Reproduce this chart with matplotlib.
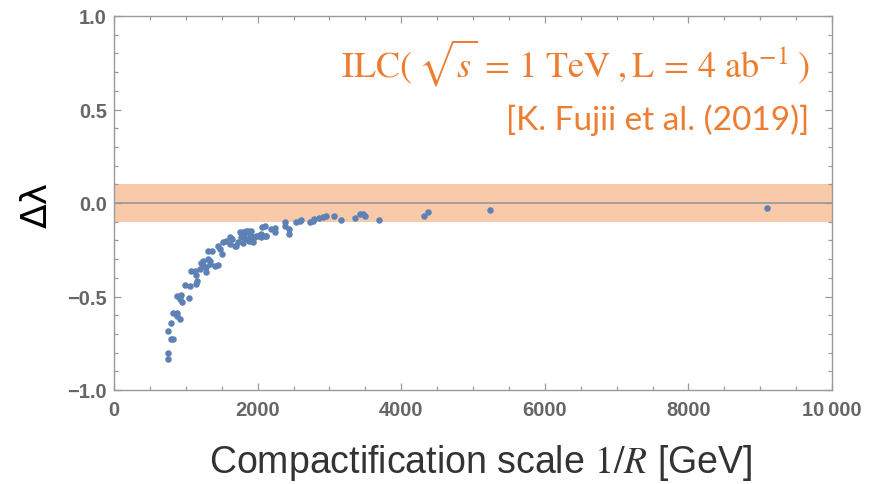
import matplotlib
matplotlib.use("Agg")
import matplotlib.pyplot as plt
from matplotlib.ticker import MultipleLocator, FixedLocator, FixedFormatter

# ---- data ----
scale_1overR = [755, 755, 755, 787, 815, 787, 824, 880, 917, 880, 880, 940, 954, 1046, 917,
                986, 1056, 1148, 1158, 1079, 1125, 1148, 1195, 1241, 1287, 1278, 1208, 1241,
                1310, 1343, 1333, 1403, 1449, 1310, 1370, 1449, 1509, 1482, 1519, 1565, 1611,
                1648, 1704, 1727, 1750, 1773, 1806, 1843, 1880, 1912, 1935, 1866, 1912, 1829,
                1797, 1982, 2028, 2074, 2111, 2065, 2236, 2236, 2375, 2375, 2435, 2435, 2537,
                2584, 2607, 2732, 2792, 2862, 2908, 2954,
                1796, 1935, 2005, 2051, 2097, 2769,
                1612, 1681, 1820, 1889, 2051, 2121, 2190,
                3065, 3162, 3361, 3426, 3463, 3491, 3685, 4320, 4380, 5241, 9098]
delta_lambda = [-0.834, -0.802, -0.686, -0.727, -0.727, -0.642, -0.588, -0.588, -0.620, -0.606,
                -0.496, -0.492, -0.531, -0.510, -0.513, -0.438, -0.446, -0.433, -0.415, -0.362,
                -0.362, -0.385, -0.353, -0.335, -0.367, -0.344, -0.321, -0.308, -0.299, -0.308,
                -0.326, -0.339, -0.332, -0.255, -0.255, -0.228, -0.273, -0.246, -0.210, -0.201,
                -0.184, -0.193, -0.232, -0.207, -0.157, -0.184, -0.166, -0.148, -0.201, -0.175,
                -0.210, -0.148, -0.148, -0.193, -0.214, -0.175, -0.171, -0.175, -0.175, -0.130,
                -0.135, -0.157, -0.103, -0.125, -0.139, -0.166, -0.103, -0.095, -0.089, -0.103,
                -0.086, -0.082, -0.077, -0.071,
                -0.157, -0.192, -0.175, -0.166, -0.121, -0.094,
                -0.219, -0.228, -0.192, -0.175, -0.184, -0.175, -0.139,
                -0.071, -0.093, -0.082, -0.061, -0.057, -0.071, -0.093, -0.071, -0.050, -0.039,
                -0.028]
band_limit = 0.1
x_ticks = [0, 2000, 4000, 6000, 8000, 10000]
x_ticklabels = ["0", "2000", "4000", "6000", "8000", "10\u2009000"]
y_ticks = [-1.0, -0.5, 0.0, 0.5, 1.0]
y_ticklabels = ["\u22121.0", "\u22120.5", "0.0", "0.5", "1.0"]

# ---- figure ----
W, H = 881, 485
fig = plt.figure(figsize=(W / 100, H / 100), dpi=100)
ax = fig.add_axes([114 / W, 1 - 391 / H, (832 - 114) / W, (391 - 17) / H])

frame = "#9a9a9a"
ax.axhspan(-band_limit, band_limit, color="#F8CAAA", lw=0, zorder=1)
ax.axhline(0, color="#999999", lw=1.2, zorder=2)
ax.scatter(scale_1overR, delta_lambda, s=22, color="#5E81B5", lw=0, zorder=3)

ax.set_xlim(0, 10000)
ax.set_ylim(-1.0, 1.0)

ax.xaxis.set_major_locator(FixedLocator(x_ticks))
ax.xaxis.set_major_formatter(FixedFormatter(x_ticklabels))
ax.xaxis.set_minor_locator(MultipleLocator(500))
ax.yaxis.set_major_locator(FixedLocator(y_ticks))
ax.yaxis.set_major_formatter(FixedFormatter(y_ticklabels))
ax.yaxis.set_minor_locator(MultipleLocator(0.1))

for sp in ax.spines.values():
    sp.set_color(frame)
    sp.set_linewidth(1.0)
ax.tick_params(which="both", direction="in", top=True, right=True, color=frame, width=0.9)
ax.tick_params(which="major", length=5)
ax.tick_params(which="minor", length=3)
ax.tick_params(axis="x", which="major", pad=7)
ax.tick_params(axis="y", which="major", pad=5)
for lab in ax.get_xticklabels() + ax.get_yticklabels():
    lab.set_fontfamily("Liberation Sans")
    lab.set_fontweight("bold")
    lab.set_fontsize(14.5)
    lab.set_color("#666666")

# axis labels
fig.text(37 / W, 1 - 205 / H, "\u0394\u03bb", rotation=90, ha="center", va="center",
         fontsize=26, family="DejaVu Sans", color="black")
fig.text(481 / W, 1 - 463 / H, r"Compactification scale $1/R$ [GeV]", ha="center",
         va="center", fontsize=27, family="Liberation Sans", color="#333333",
         math_fontfamily="stix")

# annotations
orange = "#ED7D31"
ax.text(0.969, 0.877,
        r"$\mathrm{ILC(}\;\sqrt{s}\,=\,1\ \mathrm{TeV}\;,\mathrm{L}\,=\,4\ \mathrm{ab}^{-1}\;\mathrm{)}$",
        transform=ax.transAxes, ha="right", va="center", fontsize=26, color=orange,
        math_fontfamily="stix")
ax.text(0.969, 0.725, "[K. Fujii et al. (2019)]", transform=ax.transAxes, ha="right",
        va="center", fontsize=24, color=orange, family="Lato")

fig.savefig("out.png", dpi=100)
